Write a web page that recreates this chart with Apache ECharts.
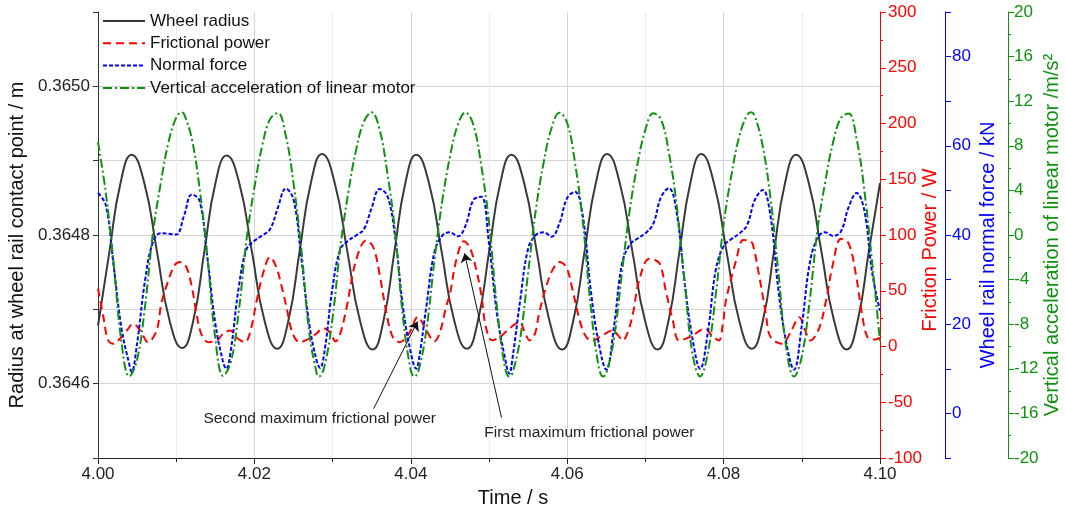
<!DOCTYPE html>
<html><head><meta charset="utf-8">
<script src="https://cdn.jsdelivr.net/npm/echarts@6.0.0/dist/echarts.min.js"></script>
<style>html,body{margin:0;padding:0;background:#fff}#c{width:1065px;height:510px}</style>
</head><body><div id="c"></div>
<script>
// Wheel radius (m): read-off points (peaks, troughs, mean crossings, quarter points)
const radiusTime = [4.000000,4.001465,4.002880,4.004300,4.005920,4.007535,4.009150,4.010770,
4.012190,4.013600,4.015020,4.016440,4.018060,4.019675,4.021290,4.022910,
4.024350,4.025780,4.027220,4.028650,4.030270,4.031885,4.033500,4.035120,
4.036515,4.037910,4.039305,4.040700,4.042320,4.043935,4.045550,4.047170,
4.048595,4.050020,4.051445,4.052870,4.054490,4.056105,4.057720,4.059340,
4.060780,4.062220,4.063660,4.065100,4.066720,4.068335,4.069950,4.071570,
4.072960,4.074355,4.075750,4.077140,4.078760,4.080375,4.081990,4.083610,
4.085025,4.086440,4.087855,4.089270,4.090890,4.092505,4.094120,4.095740,
4.097155,4.098570,4.100000];
const wheelRadius = [0.364678,0.364778,0.364870,0.364908,0.364870,0.364778,0.364685,0.364648,
0.364685,0.364778,0.364870,0.364907,0.364870,0.364778,0.364685,0.364647,
0.364685,0.364778,0.364870,0.364909,0.364870,0.364778,0.364685,0.364646,
0.364685,0.364778,0.364870,0.364908,0.364870,0.364778,0.364685,0.364647,
0.364685,0.364778,0.364870,0.364908,0.364870,0.364778,0.364685,0.364646,
0.364685,0.364778,0.364870,0.364909,0.364870,0.364778,0.364685,0.364646,
0.364685,0.364778,0.364870,0.364909,0.364870,0.364778,0.364685,0.364647,
0.364685,0.364778,0.364870,0.364908,0.364870,0.364778,0.364685,0.364646,
0.364685,0.364778,0.364870];

// Normal force (kN)
const forceTime = [4.000,4.001,4.002,4.003,4.004,4.0043,4.005,4.006,4.007,4.008,4.009,
4.010,4.011,4.012,4.013,4.014,4.015,4.016,4.0164,4.017,4.018,4.019,
4.020,4.021,4.022,4.023,4.024,4.025,4.026,4.027,4.028,4.0284,4.029,
4.030,4.031,4.032,4.033,4.034,4.035,4.036,4.037,4.038,4.039,
4.040,4.0407,4.041,4.042,4.043,4.044,4.045,4.046,4.047,4.048,4.049,
4.050,4.051,4.052,4.0526,4.053,4.054,4.055,4.056,4.057,4.058,4.059,
4.060,4.061,4.062,4.063,4.064,4.065,4.066,4.067,4.068,4.069,
4.070,4.071,4.072,4.073,4.074,4.075,4.076,4.077,4.078,4.079,
4.080,4.081,4.082,4.083,4.084,4.085,4.086,4.087,4.088,4.089,
4.090,4.091,4.092,4.093,4.094,4.095,4.096,4.097,4.098,4.099,4.100];
const normalForce = [49.4,46.7,33.1,19.1,11.0,9.3,15.7,29.6,38.3,40.4,40.3,
40.1,44.3,49.1,47.6,34.8,20.2,11.5,10.0,14.3,28.3,36.8,
38.7,39.9,41.3,46.1,50.4,48.0,34.8,20.2,11.5,10.2,14.3,
28.3,36.8,38.7,39.9,41.3,46.1,50.3,48.8,39.6,23.8,
13.6,10.0,11.6,24.1,36.0,39.8,40.6,39.7,42.1,47.8,48.6,
38.1,22.5,12.8,8.9,12.3,25.5,36.9,40.0,40.6,39.6,42.6,
48.3,49.7,44.2,27.8,16.0,9.8,19.7,33.5,37.8,39.2,
40.4,42.5,48.5,50.5,45.0,29.6,17.0,10.0,18.4,32.2,
37.5,39.1,40.3,42.2,47.9,50.1,44.2,27.8,16.0,9.8,
19.7,33.5,39.3,40.6,39.8,40.8,46.3,49.4,45.5,31.5,23.0];

// Vertical acceleration of linear motor (m/s^2)
const accelTime = [4.000,4.001,4.002,4.003,4.004,4.005,4.006,4.007,4.008,4.009,
4.010,4.0107,4.011,4.012,4.013,4.014,4.015,4.016,4.017,4.018,4.019,
4.020,4.021,4.022,4.023,4.024,4.025,4.026,4.027,4.028,4.02825,4.029,
4.030,4.031,4.032,4.033,4.034,4.035,4.036,4.037,4.038,4.039,
4.040,4.04045,4.041,4.042,4.043,4.044,4.045,4.046,4.047,4.048,4.049,
4.050,4.051,4.052,4.0526,4.053,4.054,4.055,4.056,4.057,4.058,4.059,
4.060,4.061,4.062,4.063,4.064,4.0646,4.065,4.066,4.067,4.068,4.069,
4.070,4.071,4.072,4.073,4.074,4.075,4.076,4.077,4.078,4.079,
4.080,4.081,4.082,4.083,4.0835,4.084,4.085,4.086,4.087,4.088,4.089,
4.090,4.091,4.092,4.093,4.094,4.095,4.096,4.097,4.098,4.099,4.100];
const acceleration = [8.33,3.78,-2.55,-9.60,-12.68,-11.19,-6.49,0.05,4.56,8.27,
10.52,11.0,10.87,8.62,4.14,-2.07,-9.27,-12.64,-11.38,-6.84,-0.36,
4.26,8.02,10.39,10.94,8.96,4.66,-1.25,-8.68,-12.53,-12.7,-11.66,
-7.41,-1.03,3.79,7.61,10.16,11.0,9.48,5.58,0.29,-7.39,
-12.15,-12.7,-12.14,-8.48,-2.40,2.96,7.01,9.86,10.99,9.88,6.28,
1.11,-6.35,-11.73,-12.7,-12.40,-9.23,-3.39,2.32,6.54,9.60,10.96,
10.05,6.47,1.15,-6.35,-11.73,-12.7,-12.40,-9.23,-3.39,2.25,6.39,
9.45,10.92,10.36,7.39,2.68,-4.08,-10.56,-12.68,-10.51,-5.33,
0.94,5.37,8.84,10.75,11.0,10.65,7.98,3.29,-3.29,-10.08,-12.7,
-10.89,-5.94,0.45,4.77,8.32,10.49,10.90,8.65,4.00,-2.48,-9.55];

// Frictional power (W)
const powerTime = [4.0000,4.0007,4.0013,4.0020,4.0028,4.0037,4.0045,4.0054,4.0064,4.0075,
4.0081,4.0090,4.0098,4.0105,4.0113,4.0120,4.0126,4.0132,4.0141,4.0152,
4.0160,4.0169,4.0179,4.0188,4.0195,4.0203,4.0211,4.0220,4.0228,4.0235,
4.0241,4.0249,4.0258,4.0270,4.0279,4.0288,4.0296,4.0304,4.0310,4.0318,
4.0330,4.0343,4.0352,4.0360,4.0369,4.0377,4.0386,4.0398,4.0409,4.0420,
4.0430,4.0437,4.0445,4.0450,4.0458,4.0468,4.0476,4.0484,4.0490,4.0496,
4.0504,4.0515,4.0525,4.0539,4.0546,4.0552,4.0559,4.0564,4.0573,4.0581,
4.0590,4.0599,4.0607,4.0616,4.0623,4.0631,4.0645,4.0658,4.0665,4.0671,
4.0678,4.0684,4.0692,4.0705,4.0718,4.0726,4.0735,4.0743,4.0755,4.0765,
4.0776,4.0785,4.0794,4.0799,4.0803,4.0816,4.0825,4.0832,4.0837,4.0845,
4.0854,4.0860,4.0875,4.0885,4.0897,4.0904,4.0911,4.0922,4.0931,4.0939,
4.0950,4.0960,4.0969,4.0977,4.0984,4.0994,4.1000];
const frictionalPower = [52,26,5.4,2.4,6.9,14.4,20.4,14.4,3.9,14.4,
38.4,59.3,72.8,75.7,71.3,53.3,29.4,11.4,3.9,5.4,
11.4,14.4,6.9,3.9,14,41.3,65.3,80.2,71.2,53.3,
35.3,11.4,3.9,7,11.4,16.5,13,4.5,12,35.3,
77.3,95.2,89.2,65.3,29.4,8.4,3.9,12,26.5,14.4,
4.5,12,35.3,47,77,94.5,88,68,47,17.4,
5.5,9,15.5,21.8,12,5.4,12,29.6,53.3,68.3,
75.7,71,50.3,23.4,10,5.0,10,14.4,10,5.4,
14,29.4,59.3,78.8,74.6,50.3,23.4,5.4,8,12,
16.2,10,5.4,20,41.3,77.3,95.5,95,92.3,65.3,
29.6,8.4,2.4,12,26.3,15,5.4,16,41.3,71.2,
96.7,92.3,65.3,29.4,8.4,6.3,8];

const seriesNames = ['Wheel radius','Frictional power','Normal force','Vertical acceleration of linear motor'];

// Annotations (time s, frictional power W)
const annotationTexts = ['Second maximum frictional power','First maximum frictional power'];
const annotationTextAt = [[4.02835,-64.7],[4.06284,-77.3]];
const arrowFrom = [[4.03525,-55.7],[4.0516,-63.8]];
const arrowTo = [[4.04087,22.5],[4.04687,83.6]];

const FONT = "'Liberation Sans', Arial, Helvetica, sans-serif";
const pair = (xs, ys) => xs.map((x, i) => [x, ys[i]]);

const chart = echarts.init(document.getElementById('c'), null, {renderer: 'canvas'});

function rightAxis(color, opts) {
  return Object.assign({
    type: 'value', position: 'right',
    axisLine: {show: true, onZero: false, lineStyle: {color: color, width: 1}},
    axisTick: {show: true, length: 6, lineStyle: {color: color}},
    minorTick: {show: true, splitNumber: 2, length: 3, lineStyle: {color: color}},
    axisLabel: {color: color, fontSize: 17, fontFamily: FONT, margin: 8},
    splitLine: {show: false},
    nameLocation: 'middle', nameRotate: 90, nameMoveOverlap: false
  }, opts);
}

const option = {
  animation: false,
  backgroundColor: '#ffffff',
  textStyle: {fontFamily: FONT},
  grid: {left: 98, right: 185, top: 12, bottom: 52, containLabel: false, outerBoundsMode: 'none'},
  legend: {
    orient: 'vertical', left: 97, top: 7,
    itemWidth: 42, itemHeight: 14, itemGap: 4.3,
    itemStyle: {opacity: 0},
    textStyle: {fontSize: 17, color: '#111', fontFamily: FONT, lineHeight: 18},
    data: seriesNames
  },
  xAxis: {
    type: 'value', min: 4.0, max: 4.1, interval: 0.02,
    name: 'Time / s', nameLocation: 'middle', nameGap: 30, nameMoveOverlap: false,
    nameTextStyle: {fontSize: 20, color: '#111', fontFamily: FONT, padding: [0, 0, 0, 48]},
    axisLine: {show: true, onZero: false, lineStyle: {color: '#222'}},
    axisTick: {show: true, length: 6, lineStyle: {color: '#222'}},
    minorTick: {show: true, splitNumber: 2, length: 4, lineStyle: {color: '#222'}},
    axisLabel: {fontSize: 17, color: '#222', margin: 8, formatter: v => v.toFixed(2)},
    splitLine: {show: true, lineStyle: {color: '#d4d4d4', width: 1}},
    minorSplitLine: {show: true, lineStyle: {color: '#ececec', width: 1}}
  },
  yAxis: [
    {
      type: 'value', position: 'left', min: 0.3645, max: 0.3651, interval: 0.0001,
      name: 'Radius at wheel rail contact point / m', nameLocation: 'middle', nameRotate: 90, nameGap: 71,
      nameMoveOverlap: false,
      nameTextStyle: {fontSize: 20, color: '#111', fontFamily: FONT, padding: [0, 20, 0, 0]},
      axisLine: {show: true, onZero: false, lineStyle: {color: '#333'}},
      axisTick: {show: true, length: 5, lineStyle: {color: '#333'}},
      axisLabel: {fontSize: 17, color: '#222', margin: 8,
        formatter: v => (Math.round(v * 1e4) % 2 === 0 ? v.toFixed(4) : '')},
      splitLine: {show: true, lineStyle: {color: ['#d4d4d4','#d4d4d4','#d4d4d4','#d4d4d4','#d4d4d4','#d4d4d4','rgba(0,0,0,0)'], width: 1}}
    },
    rightAxis('#ff0000', {min: -100, max: 300, interval: 50, offset: 0,
      name: 'Friction Power / W', nameGap: 40,
      nameTextStyle: {color: '#ff0000', fontSize: 20, fontFamily: FONT, padding: [0, 30, 0, 0]}}),
    rightAxis('#0000ff', {min: -10, max: 90, interval: 10, offset: 65,
      name: 'Wheel rail normal force / kN', nameGap: 33,
      nameTextStyle: {color: '#0000ff', fontSize: 20, fontFamily: FONT, padding: [0, 20, 0, 0]},
      minorTick: {show: false},
      axisLabel: {color: '#0000ff', fontSize: 17, fontFamily: FONT, margin: 7,
        formatter: v => (v % 20 === 0 ? String(v) : '')}}),
    rightAxis('#119011', {min: -20, max: 20, interval: 4, offset: 128,
      name: 'Vertical acceleration of linear motor /m/s²', nameGap: 34,
      nameTextStyle: {color: '#119011', fontSize: 20, fontFamily: FONT},
      axisLabel: {color: '#119011', fontSize: 17, fontFamily: FONT, margin: 6}})
  ],
  series: [
    {
      name: seriesNames[0], type: 'line', yAxisIndex: 0, smooth: 0.5, symbol: 'none', showSymbol: false,
      data: pair(radiusTime, wheelRadius),
      lineStyle: {color: '#3a3a3a', width: 2}, itemStyle: {color: '#3a3a3a'}, z: 3
    },
    {
      name: seriesNames[1], type: 'line', yAxisIndex: 1, smooth: 0.35, symbol: 'none', showSymbol: false,
      data: pair(powerTime, frictionalPower),
      lineStyle: {color: '#ff0000', width: 2, type: [8, 5]}, itemStyle: {color: '#ff0000'}, z: 4,
      markLine: {
        silent: true, symbol: ['none', 'arrow'], symbolSize: 9, animation: false,
        label: {show: false},
        lineStyle: {color: '#111', type: 'solid', width: 1},
        data: arrowFrom.map((p, i) => [{coord: p}, {coord: arrowTo[i]}])
      },
      markPoint: {
        silent: true, symbol: 'circle', symbolSize: 0, animation: false,
        label: {show: true, position: 'inside', formatter: '{b}', color: '#222', fontSize: 15.5, fontFamily: FONT},
        data: annotationTexts.map((t, i) => ({name: t, coord: annotationTextAt[i]}))
      }
    },
    {
      name: seriesNames[2], type: 'line', yAxisIndex: 2, smooth: 0.4, symbol: 'none', showSymbol: false,
      data: pair(forceTime, normalForce),
      lineStyle: {color: '#0000ff', width: 2, type: [4, 2]}, itemStyle: {color: '#0000ff'}, z: 5
    },
    {
      name: seriesNames[3], type: 'line', yAxisIndex: 3, smooth: 0.4, symbol: 'none', showSymbol: false,
      data: pair(accelTime, acceleration),
      lineStyle: {color: '#119011', width: 2, type: [9, 3, 2, 3]}, itemStyle: {color: '#119011'}, z: 6
    }
  ]
};
chart.setOption(option);
</script></body></html>
